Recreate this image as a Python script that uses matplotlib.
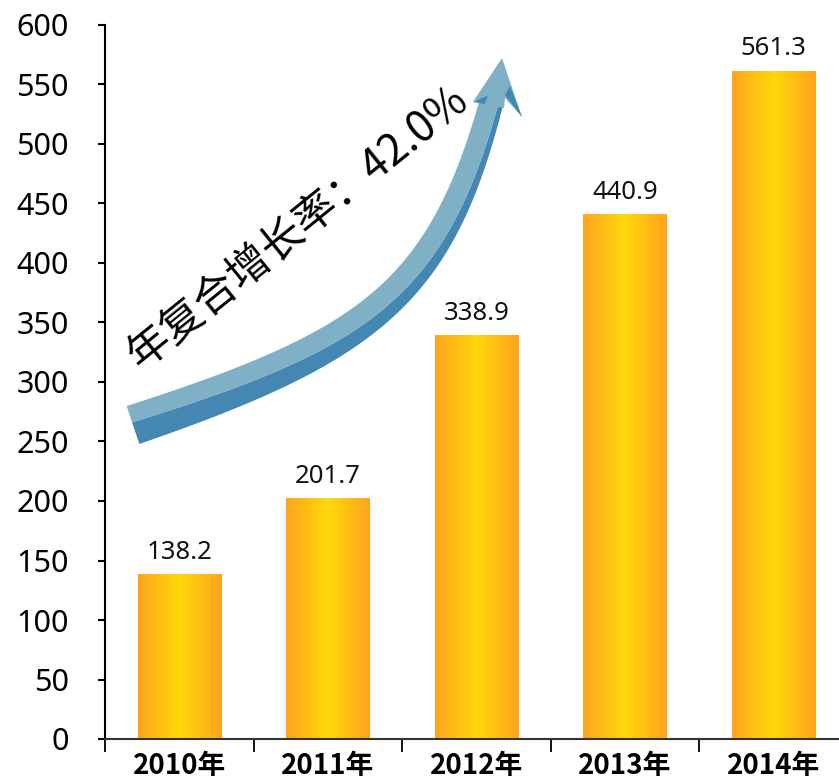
import numpy as np
import matplotlib.pyplot as plt
from matplotlib.patches import Polygon
from matplotlib.colors import LinearSegmentedColormap

# data
years = ['2010年', '2011年', '2012年', '2013年', '2014年']
values = [138.2, 201.7, 338.9, 440.9, 561.3]
cagr_text = '年复合增长率：42.0%'

W, H = 839, 782
fig = plt.figure(figsize=(W / 100, H / 100), dpi=100)
fig.patch.set_facecolor('white')

# main axes, right edge runs a bit past the picture like the original
ax = fig.add_axes([105 / W, 43 / H, 743 / W, 714 / H])
x = np.arange(len(years))
bw = 0.56

cmap = LinearSegmentedColormap.from_list('gold', ['#FFA41F', '#FFD80A', '#FFA41F'])
grad = np.linspace(0, 1, 256).reshape(1, -1)
for xi, v in zip(x, values):
    ax.imshow(grad, cmap=cmap, aspect='auto', extent=[xi - bw / 2, xi + bw / 2, 0, v],
              interpolation='bicubic', zorder=2)
    ax.annotate(f'{v:.1f}', (xi, v), xytext=(0, 7), textcoords='offset points',
                ha='center', va='bottom', fontsize=18.5, family='Noto Sans', color='#111111')

ax.set_xlim(-0.5, len(years) - 0.5)
ax.set_ylim(0, 600)
ax.set_yticks(np.arange(0, 601, 50))
ax.set_yticklabels([str(t) for t in range(0, 601, 50)], fontsize=22, family='Noto Sans')
ax.tick_params(axis='y', length=5, width=1.5, pad=21, colors='black')

# category borders get the ticks, names sit in the middle
ax.set_xticks(np.arange(-0.5, len(years), 1.0))
ax.set_xticklabels([])
ax.set_xticks(x, minor=True)
ax.set_xticklabels(years, minor=True, fontsize=20, fontweight='bold',
                   family=['Liberation Sans Narrow', 'Noto Sans CJK SC'])
ax.tick_params(axis='x', which='major', length=9, width=1.3)
ax.tick_params(axis='x', which='minor', length=0, pad=9)

for s in ['top', 'right']:
    ax.spines[s].set_visible(False)
ax.spines['left'].set_linewidth(1.5)
ax.spines['bottom'].set_linewidth(1.5)
ax.spines['bottom'].set_color('#333333')

# overlay in pixel space for the curved arrow
ov = fig.add_axes([0, 0, 1, 1])
ov.set_xlim(0, W)
ov.set_ylim(H, 0)
ov.axis('off')

p0 = np.array([133.0, 425.0])
p1 = np.array([370.0, 346.0])
p2 = np.array([441.0, 293.0])
p3 = np.array([492.0, 100.0])
t = np.linspace(0, 1, 150)[:, None]
c = (1 - t) ** 3 * p0 + 3 * (1 - t) ** 2 * t * p1 + 3 * (1 - t) * t ** 2 * p2 + t ** 3 * p3
d = 3 * (1 - t) ** 2 * (p1 - p0) + 6 * (1 - t) * t * (p2 - p1) + 3 * t ** 2 * (p3 - p2)
d = d / np.linalg.norm(d, axis=1, keepdims=True)
n = np.column_stack([d[:, 1], -d[:, 0]])
w = 40 - 16 * t
lf = 0.43 + 0.37 * t  # light part gets wider toward the head
upper = c + n * w / 2
mid = c + n * (w / 2 - lf * w)
lower = c - n * w / 2

ov.add_patch(Polygon(np.vstack([mid, lower[::-1]]), closed=True, fc='#4387B2', ec='none'))
ov.add_patch(Polygon(np.vstack([upper, mid[::-1]]), closed=True, fc='#80B0C6', ec='none'))

tip = np.array([502, 58])
lb = np.array([473, 102])
rb = np.array([522, 117])
ov.add_patch(Polygon([tip, lb, (488, 95), (481, 104), (504, 108), (505, 98), rb],
                     closed=True, fc='#80B0C6', ec='none'))
ov.add_patch(Polygon([(473, 102), (488, 95), (485, 104)], closed=True, fc='#4387B2', ec='none'))
ov.add_patch(Polygon([(505, 95), rb, (510, 86)], closed=True, fc='#4387B2', ec='none'))

ov.text(298, 228, cagr_text, rotation=39, ha='center', va='center', fontsize=31,
        family=['Noto Sans CJK SC', 'DejaVu Sans'], color='black',
        rotation_mode='anchor')

fig.savefig('out.png', dpi=100)
